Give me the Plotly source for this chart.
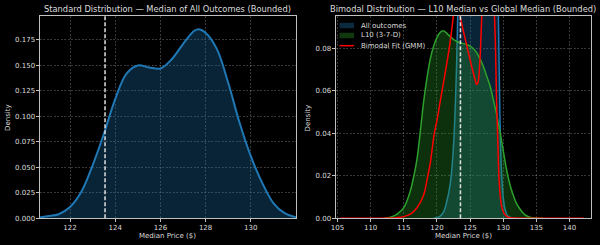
import plotly.graph_objects as go

# ---------------- data ----------------
global_median = 123.55

left_x = [120.65, 121.0, 121.5, 122.0, 122.5, 123.0, 123.5, 124.0, 124.5, 125.0, 125.5,
          126.0, 126.5, 127.0, 127.5, 127.7, 128.0, 128.5, 129.0, 129.5, 130.0, 130.5,
          131.0, 131.5, 132.0]
left_density = [0.0008, 0.002, 0.004, 0.011, 0.026, 0.052, 0.083, 0.117, 0.142, 0.150, 0.148,
                0.147, 0.156, 0.171, 0.184, 0.1855, 0.182, 0.166, 0.133, 0.094, 0.061, 0.035,
                0.015, 0.005, 0.001]

all_x = [119.5, 120.0, 120.5, 121.0, 121.5, 122.0, 122.3, 122.6, 122.9, 123.1, 123.3, 123.6,
         124.0, 125.0, 126.0, 127.0, 128.0, 128.5, 128.8, 129.1, 129.3, 129.5, 129.7, 130.0,
         130.3, 130.6, 131.0, 131.5]
all_density = [0.0, 0.0003, 0.001, 0.003, 0.008, 0.016, 0.025, 0.040, 0.065, 0.090, 0.12, 0.16,
               0.20, 0.24, 0.25, 0.26, 0.24, 0.22, 0.19, 0.13, 0.09, 0.05, 0.025, 0.010,
               0.004, 0.0015, 0.0005, 0.0]

l10_x = [112.0, 113.0, 114.0, 115.0, 116.0, 116.5, 117.0, 117.5, 118.0, 118.5, 119.0, 119.5,
         120.0, 120.5, 121.0, 121.5, 122.0, 122.5, 123.0, 123.5, 124.0, 124.5, 125.0, 125.5,
         126.0, 126.5, 127.0, 127.5, 128.0, 128.5, 129.0, 129.5, 130.0, 130.5, 131.0, 131.5,
         132.0, 132.5, 133.0, 133.5, 134.0, 135.0, 136.0]
l10_density = [0.0, 0.0005, 0.002, 0.005, 0.013, 0.0196, 0.028, 0.041, 0.055, 0.066, 0.075, 0.081,
               0.085, 0.0875, 0.0882, 0.087, 0.0855, 0.0842, 0.0832, 0.0826, 0.0822, 0.0818, 0.081,
               0.0798, 0.078, 0.075, 0.0715, 0.067, 0.0625, 0.056, 0.049, 0.041, 0.032, 0.023,
               0.016, 0.011, 0.007, 0.0045, 0.0025, 0.0012, 0.0005, 0.0001, 0.0]

gmm_x = [105.4, 110.0, 113.0, 114.0, 115.0, 116.0, 117.0, 118.0, 118.6, 119.0, 119.6, 120.0,
         120.5, 121.0, 121.5, 122.0, 122.6, 122.95, 123.3, 124.0, 124.6, 125.2, 125.7, 126.0,
         126.2, 126.5, 126.7, 126.9, 127.7, 128.5, 128.8, 129.0, 129.2, 129.35, 129.6, 129.9,
         130.3, 130.8, 131.5, 133.0, 142.2]
gmm_density = [0.0, 0.0, 0.0001, 0.0003, 0.0008, 0.002, 0.005, 0.011, 0.0196, 0.026, 0.040, 0.046,
               0.055, 0.064, 0.073, 0.083, 0.098, 0.105, 0.098, 0.088, 0.080, 0.072, 0.066, 0.063,
               0.064, 0.075, 0.090, 0.105, 0.2, 0.11, 0.085, 0.055, 0.035, 0.02, 0.009, 0.004,
               0.0015, 0.0004, 0.0001, 0.0, 0.0]

left_yticks = [0.0, 0.025, 0.05, 0.075, 0.1, 0.125, 0.15, 0.175]
right_yticks = [0.0, 0.02, 0.04, 0.06, 0.08]

# ---------------- styling ----------------
W, H = 600, 245
BLUE, GREEN, RED = "#1f77b4", "#2ca02c", "#ff0000"
TXT = "#dcdcdc"
GRID = "rgba(255,255,255,0.22)"
SPINE = "#c0c0c0"
FONT = "DejaVu Sans"

def px(x):
    return x / W

def py(y):
    return 1 - y / H

fig = go.Figure()

# left panel
fig.add_trace(go.Scatter(x=left_x, y=left_density, mode="lines", line=dict(color=BLUE, width=2, shape="spline"),
                         fill="tozeroy", fillcolor="rgba(31,119,180,0.3)", xaxis="x", yaxis="y", showlegend=False))
# right panel
fig.add_trace(go.Scatter(x=all_x, y=all_density, mode="lines", line=dict(color=BLUE, width=1.5, shape="spline"),
                         fill="tozeroy", fillcolor="rgba(31,119,180,0.3)", xaxis="x2", yaxis="y2", showlegend=False))
fig.add_trace(go.Scatter(x=l10_x, y=l10_density, mode="lines", line=dict(color=GREEN, width=1.5, shape="spline"),
                         fill="tozeroy", fillcolor="rgba(44,160,44,0.3)", xaxis="x2", yaxis="y2", showlegend=False))
fig.add_trace(go.Scatter(x=gmm_x, y=gmm_density, mode="lines", line=dict(color=RED, width=1.5, shape="spline"),
                         xaxis="x2", yaxis="y2", showlegend=False))

dom_y = [py(218.3), py(16)]
axis_common = dict(showline=True, mirror=True, linecolor=SPINE, linewidth=1,
                   showgrid=True, gridcolor=GRID, gridwidth=0.8, griddash="2px,1.5px",
                   ticks="outside", ticklen=3, tickcolor=SPINE, tickwidth=0.8,
                   tickfont=dict(family=FONT, size=7, color=TXT), zeroline=False,
                   ticklabelstandoff=-1, automargin=False)

fig.update_layout(
    width=W, height=H, margin=dict(l=0, r=0, t=0, b=0),
    paper_bgcolor="black", plot_bgcolor="black",
    xaxis=dict(domain=[px(39.5), px(296)], range=[120.65, 132.0], tickmode="array",
               tickvals=[122, 124, 126, 128, 130], anchor="y", **axis_common),
    yaxis=dict(domain=dom_y, range=[0, 0.1985], tickmode="array", tickvals=left_yticks,
               tickformat=".3f", anchor="x", **axis_common),
    xaxis2=dict(domain=[px(335.5), px(590.7)], range=[104.7, 143.2], tickmode="array",
                tickvals=[105, 110, 115, 120, 125, 130, 135, 140], anchor="y2", **axis_common),
    yaxis2=dict(domain=dom_y, range=[0, 0.0952], tickmode="array", tickvals=right_yticks,
                tickformat=".2f", anchor="x2", **axis_common),
)

# global median reference lines
for xr, yr in (("x", "y"), ("x2", "y2")):
    fig.add_shape(type="line", xref=xr, yref=yr + " domain", x0=global_median, x1=global_median,
                  y0=0, y1=1, line=dict(color="#e0e0e0", width=1.5, dash="4px,2px"))

ann_font = dict(family=FONT, size=8.3, color=TXT)
small_font = dict(family=FONT, size=7, color=TXT)
annotations = [
    dict(text="Standard Distribution — Median of All Outcomes (Bounded)", x=px((39.5 + 296) / 2), y=py(9),
         font=ann_font),
    dict(text="Bimodal Distribution — L10 Median vs Global Median (Bounded)", x=px((335.5 + 590.7) / 2),
         y=py(9), font=ann_font),
    dict(text="Median Price ($)", x=px((39.5 + 296) / 2), y=py(236), font=small_font),
    dict(text="Median Price ($)", x=px((335.5 + 590.7) / 2), y=py(236), font=small_font),
    dict(text="Density", x=px(8), y=py(118), textangle=-90, font=small_font),
    dict(text="Density", x=px(307.5), y=py(118), textangle=-90, font=small_font),
]
for a in annotations:
    a.update(xref="paper", yref="paper", showarrow=False, xanchor="center", yanchor="middle")
    fig.add_annotation(**a)

# manual legend (matplotlib style)
legend_items = [("All outcomes", "patch", "rgba(31,119,180,0.35)", 25.5),
                ("L10 (3-7-D)", "patch", "rgba(44,160,44,0.35)", 35.5),
                ("Bimodal Fit (GMM)", "line", RED, 45.7)]
for label, kind, color, yc in legend_items:
    if kind == "patch":
        fig.add_shape(type="rect", xref="paper", yref="paper", x0=px(339.5), x1=px(354), y0=py(yc + 2.7),
                      y1=py(yc - 2.7), fillcolor=color, line=dict(width=0))
    else:
        fig.add_shape(type="line", xref="paper", yref="paper", x0=px(339.5), x1=px(354), y0=py(yc), y1=py(yc),
                      line=dict(color=color, width=1.5))
    fig.add_annotation(text=label, xref="paper", yref="paper", x=px(359), y=py(yc), xanchor="left",
                       yanchor="middle", showarrow=False, font=small_font)

fig.write_html("out.html")
